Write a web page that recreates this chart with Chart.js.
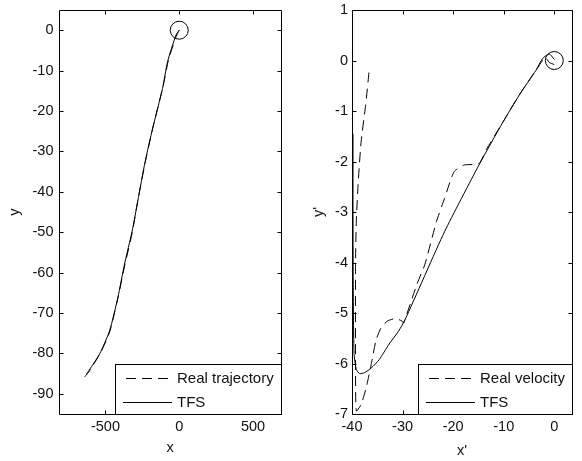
<!DOCTYPE html>
<html>
<head>
<meta charset="utf-8">
<script src="https://cdn.jsdelivr.net/npm/chart.js@4/dist/chart.umd.min.js"></script>
<style>
  html, body { margin: 0; padding: 0; background: #fff; }
  #wrap { position: relative; width: 582px; height: 461px; }
  canvas { position: absolute; top: 0; }
</style>
</head>
<body>
<div id="wrap">
  <canvas id="pos" width="291" height="461" style="left:0"></canvas>
  <canvas id="vel" width="291" height="461" style="left:291px"></canvas>
</div>
<script>
// left panel - position
const trajX = [0, -20, -72, -110, -178, -232, -280, -318, -368, -414, -470, -530, -585, -605, -640];
const trajY = [0, -1.5, -7.2, -14.0, -24.0, -33.0, -42.0, -50.0, -58.0, -66.0, -74.5, -79.6, -83.0, -84.2, -85.8];
const tfsX = [0, -22, -79, -113, -180, -231, -281, -319, -371, -416, -472, -539, -595, -628];
const tfsY = [0, -1.2, -7.8, -14.4, -24.3, -32.5, -42.3, -49.7, -57.9, -66.2, -74.4, -80.1, -83.3, -85.1];
const posXTicks = [-500, 0, 500];
const posYTicks = [0, -10, -20, -30, -40, -50, -60, -70, -80, -90];

// right panel - velocity
const realVX = [0, -1, -1.8, -3.6, -6.9, -10.1, -13.3, -14.9, -17.8, -19.8, -21.7, -23.3, -25.6, -27.2, -29.8,
  -30.1, -31.4, -33.0, -34.3, -35.3, -36.2, -37.2, -38.2, -39.15, -39.3, -39.3, -39.15, -38.8, -38.2, -37.3, -36.6];
const realVY = [-0.08, -0.04, 0.06, -0.19, -0.68, -1.21, -1.74, -2.04, -2.07, -2.2, -2.73, -3.19, -4.04, -4.44, -5.2,
  -5.16, -5.11, -5.16, -5.30, -5.56, -6.02, -6.48, -6.81, -6.94, -6.0, -4.04, -3.19, -2.46, -1.61, -0.88, -0.19];
const tfsVX = [0, -1, -2.3, -3.6, -6.9, -10.1, -14.9, -21.7, -29.5, -30.8, -32.7, -34.6, -36.2, -37.5, -38.5,
  -39.15, -39.6, -39.75, -39.8, -39.8];
const tfsVY = [0.02, 0.13, 0.04, -0.19, -0.68, -1.21, -2.07, -3.39, -5.13, -5.36, -5.62, -5.92, -6.09, -6.18, -6.2,
  -6.12, -5.8, -4.5, -3.0, -1.45];
const velXTicks = [-40, -30, -20, -10, 0];
const velYTicks = [1, 0, -1, -2, -3, -4, -5, -6, -7];

const FONT = '"Liberation Sans", Arial, sans-serif';
const tickFont = { family: FONT, size: 14.5 };
const ink = '#111';

function pts(xs, ys) {
  return xs.map((x, i) => ({ x: x, y: ys[i] }));
}

// MATLAB style box, inward ticks and legend inside the axes
const frame = {
  id: 'frame',
  afterDatasetsDraw(chart) {
    const ctx = chart.ctx, a = chart.chartArea;
    const xs = chart.scales.x, ys = chart.scales.y;
    const L = Math.round(a.left) + 0.5, R = Math.round(a.right) + 0.5;
    const T = Math.round(a.top) + 0.5, B = Math.round(a.bottom) + 0.5;
    ctx.save();
    ctx.strokeStyle = '#000';
    ctx.lineWidth = 1;
    ctx.setLineDash([]);
    ctx.beginPath();
    ctx.rect(L, T, R - L, B - T);
    xs.ticks.forEach(t => {
      const p = Math.round(xs.getPixelForValue(t.value)) + 0.5;
      ctx.moveTo(p, B); ctx.lineTo(p, B - 4);
      ctx.moveTo(p, T); ctx.lineTo(p, T + 4);
    });
    ys.ticks.forEach(t => {
      const p = Math.round(ys.getPixelForValue(t.value)) + 0.5;
      ctx.moveTo(L, p); ctx.lineTo(L + 4, p);
      ctx.moveTo(R, p); ctx.lineTo(R - 4, p);
    });
    ctx.stroke();

    // legend
    const items = chart.data.datasets.filter(d => d.label);
    ctx.font = '15px ' + FONT;
    const tw = Math.max(...items.map(d => ctx.measureText(d.label).width));
    const w = Math.round(62 + tw + 7), h = 50;
    const lx = Math.round(a.right) - w, ly = Math.round(a.bottom) - h;
    ctx.fillStyle = '#fff';
    ctx.fillRect(lx, ly, w, h);
    ctx.strokeRect(lx + 0.5, ly + 0.5, w, h);
    items.forEach((d, i) => {
      const cy = Math.round(ly + 14 + i * 23.5) + 0.5;
      ctx.setLineDash(d.borderDash || []);
      ctx.beginPath();
      ctx.moveTo(lx + (d.borderDash ? 11 : 8), cy);
      ctx.lineTo(lx + 57, cy);
      ctx.stroke();
      ctx.setLineDash([]);
      ctx.fillStyle = ink;
      ctx.textBaseline = 'middle';
      ctx.textAlign = 'left';
      ctx.fillText(d.label, lx + 62, cy);
    });
    ctx.restore();
  }
};

function axes(o) {
  return {
    x: {
      type: 'linear', min: o.xmin, max: o.xmax,
      afterBuildTicks: s => { s.ticks = o.xt.map(v => ({ value: v })); },
      afterFit: s => { s.height = 47; s.paddingLeft = 0; s.paddingRight = 0; },
      grid: { display: false, drawTicks: false },
      border: { display: false },
      ticks: { font: tickFont, color: ink, padding: 4.3, maxRotation: 0, autoSkip: false },
      title: { display: true, text: o.xTitle, font: tickFont, color: ink, padding: { top: 0, bottom: o.xTitlePad } }
    },
    y: {
      type: 'linear', min: o.ymin, max: o.ymax,
      afterBuildTicks: s => { s.ticks = o.yt.map(v => ({ value: v })); },
      afterFit: s => { s.width = o.yWidth; s.paddingTop = 0; s.paddingBottom = 0; },
      grid: { display: false, drawTicks: false },
      border: { display: false },
      ticks: { font: tickFont, color: ink, padding: o.yTickPad, autoSkip: false },
      title: { display: true, text: o.yTitle, font: tickFont, color: ink, padding: { top: o.yTitlePad, bottom: 0 } }
    }
  };
}

function lineSet(label, data, dash) {
  const d = {
    label: label, data: data, showLine: true, borderColor: '#000', borderWidth: 1,
    pointRadius: 0, tension: 0.2, fill: false
  };
  if (dash) d.borderDash = dash;
  return d;
}

function startMark() {
  return {
    label: '', data: [{ x: 0, y: 0 }], showLine: false, pointRadius: 9,
    pointBorderWidth: 1, pointBorderColor: '#000', pointBackgroundColor: 'rgba(0,0,0,0)'
  };
}

function baseOptions(scales, padRight) {
  return {
    responsive: false,
    devicePixelRatio: 1,
    animation: false,
    layout: { padding: { left: 0, right: padRight, top: 9, bottom: 0 } },
    plugins: { legend: { display: false }, tooltip: { enabled: false } },
    scales: scales
  };
}

new Chart(document.getElementById('pos').getContext('2d'), {
  type: 'scatter',
  data: {
    datasets: [
      lineSet('Real trajectory', pts(trajX, trajY), [10, 6]),
      lineSet('TFS', pts(tfsX, tfsY)),
      startMark()
    ]
  },
  options: baseOptions(axes({
    xmin: -815, xmax: 690, xt: posXTicks, ymin: -95, ymax: 5, yt: posYTicks,
    xTitle: 'x', yTitle: 'y', yWidth: 59, yTickPad: 5.5, yTitlePad: 6, xTitlePad: 4
  }), 9),
  plugins: [frame]
});

new Chart(document.getElementById('vel').getContext('2d'), {
  type: 'scatter',
  data: {
    datasets: [
      lineSet('Real velocity', pts(realVX, realVY), [10, 6]),
      lineSet('TFS', pts(tfsVX, tfsVY)),
      startMark()
    ]
  },
  options: baseOptions(axes({
    xmin: -40, xmax: 3.5, xt: velXTicks, ymin: -7, ymax: 1, yt: velYTicks,
    xTitle: "x'", yTitle: "y'", yWidth: 61, yTickPad: 4, yTitlePad: 19.5, xTitlePad: 1.6
  }), 7),
  plugins: [frame]
});
</script>
</body>
</html>
